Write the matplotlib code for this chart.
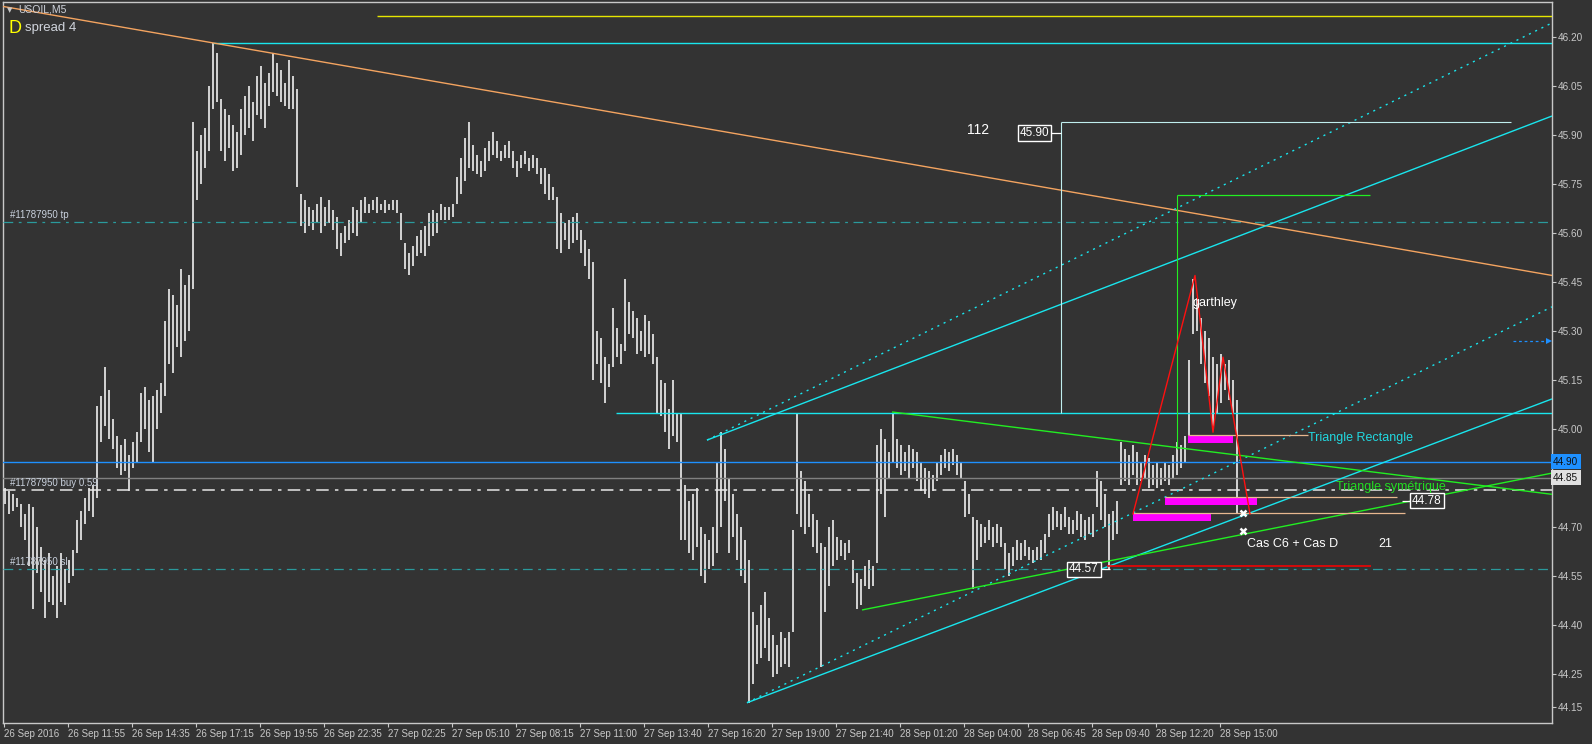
import matplotlib
matplotlib.use('Agg')
import matplotlib.pyplot as plt
import matplotlib.transforms as mtransforms
import numpy as np

plt.rcParams['font.family'] = ['Liberation Sans', 'DejaVu Sans']
plt.rcParams['lines.scale_dashes'] = False

# M5 bars of USOIL (one entry every second bar), highs and lows
high = [
    44.82, 44.81, 44.80, 44.79, 44.77, 44.74, 44.77, 44.76, 44.70, 44.64, 44.60, 44.62, 44.55, 44.58, 44.62, 44.57,
    44.60, 44.63, 44.72, 44.75, 44.79, 44.82, 44.83, 45.07, 45.10, 45.19, 45.12, 45.03, 44.98, 44.95, 44.97, 44.92,
    44.96, 44.99, 45.11, 45.13, 45.09, 45.10, 45.12, 45.14, 45.33, 45.43, 45.41, 45.38, 45.49, 45.44, 45.47, 45.94,
    45.85, 45.90, 45.92, 46.05, 46.18, 46.15, 46.01, 45.98, 45.96, 45.93, 45.91, 45.98, 46.02, 46.05, 46.00, 46.08,
    46.11, 46.06, 46.09, 46.15, 46.12, 46.10, 46.06, 46.13, 46.08, 46.04, 45.72, 45.70, 45.68, 45.67, 45.69, 45.71,
    45.68, 45.70, 45.67, 45.65, 45.60, 45.62, 45.64, 45.68, 45.67, 45.70, 45.71, 45.69, 45.70, 45.71, 45.69, 45.70,
    45.69, 45.70, 45.70, 45.66, 45.57, 45.54, 45.56, 45.59, 45.61, 45.62, 45.66, 45.67, 45.66, 45.69, 45.68, 45.68,
    45.69, 45.77, 45.83, 45.89, 45.94, 45.87, 45.84, 45.82, 45.86, 45.88, 45.91, 45.88, 45.85, 45.87, 45.88, 45.85,
    45.82, 45.84, 45.85, 45.83, 45.84, 45.83, 45.80, 45.80, 45.78, 45.74, 45.71, 45.66, 45.63, 45.64, 45.65, 45.66,
    45.61, 45.58, 45.55, 45.51, 45.30, 45.28, 45.22, 45.20, 45.37, 45.31, 45.26, 45.46, 45.39, 45.36, 45.34, 45.30,
    45.35, 45.33, 45.29, 45.22, 45.15, 45.14, 45.06, 45.15, 45.05, 45.05, 44.83, 44.78, 44.80, 44.82, 44.70, 44.68,
    44.66, 44.70, 44.90, 44.99, 44.94, 44.85, 44.80, 44.74, 44.70, 44.66, 44.60, 44.44, 44.40, 44.46, 44.50, 44.42,
    44.37, 44.34, 44.38, 44.36, 44.38, 44.69, 45.05, 44.87, 44.84, 44.80, 44.74, 44.72, 44.65, 44.64, 44.70, 44.72,
    44.67, 44.66, 44.65, 44.66, 44.60, 44.56, 44.54, 44.58, 44.60, 44.58, 44.95, 45.00, 44.97, 44.93, 45.05, 44.97,
    44.95, 44.93, 44.95, 44.94, 44.93, 44.90, 44.88, 44.87, 44.86, 44.90, 44.92, 44.94, 44.93, 44.94, 44.92, 44.90,
    44.84, 44.80, 44.73, 44.72, 44.71, 44.70, 44.72, 44.70, 44.71, 44.70, 44.65, 44.62, 44.64, 44.66, 44.65, 44.66,
    44.64, 44.63, 44.64, 44.66, 44.68, 44.74, 44.76, 44.75, 44.74, 44.76, 44.73, 44.72, 44.75, 44.74, 44.72, 44.73,
    44.74, 44.87, 44.84, 44.80, 44.74, 44.75, 44.78, 44.96, 44.94, 44.92, 44.95, 44.93, 44.90, 44.92, 44.91, 44.89,
    44.90, 44.88, 44.90, 44.89, 44.92, 44.96, 44.95, 44.98, 45.21, 45.46, 45.40, 45.34, 45.30, 45.28, 45.22, 45.20,
    45.23, 45.20, 45.21, 45.15, 45.09,
]
low = [
    44.77, 44.74, 44.75, 44.76, 44.70, 44.66, 44.58, 44.45, 44.56, 44.50, 44.42, 44.47, 44.46, 44.42, 44.47, 44.46,
    44.53, 44.55, 44.62, 44.66, 44.71, 44.75, 44.73, 44.79, 44.96, 45.01, 44.97, 44.94, 44.88, 44.86, 44.87, 44.81,
    44.88, 44.90, 44.96, 45.00, 44.93, 44.90, 45.00, 45.05, 45.10, 45.20, 45.17, 45.25, 45.22, 45.27, 45.30, 45.43,
    45.70, 45.75, 45.80, 45.85, 45.98, 46.00, 45.85, 45.82, 45.86, 45.79, 45.80, 45.84, 45.90, 45.92, 45.88, 45.96,
    45.95, 45.92, 45.99, 46.03, 46.02, 46.00, 45.99, 45.98, 45.98, 45.74, 45.62, 45.60, 45.62, 45.61, 45.63, 45.60,
    45.62, 45.63, 45.61, 45.55, 45.53, 45.57, 45.58, 45.60, 45.59, 45.63, 45.66, 45.66, 45.67, 45.66, 45.67, 45.66,
    45.67, 45.67, 45.66, 45.58, 45.49, 45.47, 45.50, 45.53, 45.54, 45.53, 45.56, 45.59, 45.60, 45.64, 45.64, 45.64,
    45.65, 45.69, 45.72, 45.76, 45.80, 45.79, 45.78, 45.77, 45.79, 45.82, 45.84, 45.83, 45.82, 45.83, 45.83, 45.80,
    45.77, 45.80, 45.81, 45.79, 45.80, 45.78, 45.75, 45.72, 45.70, 45.70, 45.55, 45.54, 45.58, 45.55, 45.57, 45.58,
    45.54, 45.50, 45.46, 45.15, 45.20, 45.14, 45.08, 45.13, 45.19, 45.22, 45.20, 45.24, 45.29, 45.28, 45.23, 45.24,
    45.22, 45.23, 45.20, 45.05, 45.04, 44.99, 44.94, 44.98, 44.96, 44.66, 44.66, 44.62, 44.60, 44.64, 44.55, 44.53,
    44.57, 44.58, 44.62, 44.70, 44.78, 44.62, 44.67, 44.60, 44.55, 44.53, 44.16, 44.22, 44.28, 44.30, 44.33, 44.29,
    44.24, 44.25, 44.27, 44.28, 44.27, 44.38, 44.74, 44.70, 44.68, 44.70, 44.64, 44.62, 44.27, 44.44, 44.52, 44.58,
    44.60, 44.61, 44.60, 44.62, 44.53, 44.45, 44.46, 44.52, 44.51, 44.52, 44.59, 44.80, 44.73, 44.85, 44.90, 44.88,
    44.86, 44.87, 44.85, 44.88, 44.84, 44.81, 44.80, 44.79, 44.81, 44.84, 44.86, 44.88, 44.87, 44.89, 44.86, 44.85,
    44.73, 44.74, 44.51, 44.60, 44.64, 44.65, 44.66, 44.64, 44.65, 44.64, 44.57, 44.55, 44.58, 44.60, 44.60, 44.61,
    44.60, 44.59, 44.60, 44.60, 44.62, 44.67, 44.69, 44.70, 44.69, 44.70, 44.68, 44.68, 44.69, 44.67, 44.66, 44.68,
    44.67, 44.76, 44.72, 44.70, 44.57, 44.66, 44.68, 44.83, 44.84, 44.83, 44.86, 44.83, 44.84, 44.85, 44.82, 44.83,
    44.82, 44.83, 44.84, 44.83, 44.85, 44.86, 44.88, 44.90, 44.96, 45.29, 45.30, 45.20, 45.14, 45.10, 45.00, 45.05,
    45.08, 45.12, 45.09, 45.05, 44.74,
]

time_labels = ['26 Sep 2016', '26 Sep 11:55', '26 Sep 14:35', '26 Sep 17:15', '26 Sep 19:55',
               '26 Sep 22:35', '27 Sep 02:25', '27 Sep 05:10', '27 Sep 08:15', '27 Sep 11:00',
               '27 Sep 13:40', '27 Sep 16:20', '27 Sep 19:00', '27 Sep 21:40', '28 Sep 01:20',
               '28 Sep 04:00', '28 Sep 06:45', '28 Sep 09:40', '28 Sep 12:20', '28 Sep 15:00']
price_ticks = [46.20, 46.05, 45.90, 45.75, 45.60, 45.45, 45.30, 45.15, 45.00,
               44.70, 44.55, 44.40, 44.25, 44.15]

# trade levels
tp_level, buy_level, sl_level = 45.634, 44.813, 44.57
bid_level, ask_level = 44.85, 44.90

# garthley pattern points (bar, price)
garthley_x = [282, 297.5, 302, 304.5, 311.25]
garthley_y = [44.74, 45.47, 44.99, 45.22, 44.74]

W, H = 1592, 744
BG = '#333333'
FG = '#c8c8c8'
CYAN = '#19e6ee'
GREEN = '#22ee22'
RIGHT = 386.75

fig = plt.figure(figsize=(W / 100, H / 100), dpi=100, facecolor=BG)
ax = fig.add_axes([3 / W, 21 / H, 1549 / W, 721 / H], facecolor=BG)
ax.set_xlim(-0.5, RIGHT)
ax.set_ylim(44.100, 46.307)

idx = np.arange(len(high))
ax.vlines(idx, low, high, colors='#cfcfcf', lw=1.3, antialiased=False, zorder=2)


def seg(x0, y0, x1, y1, **kw):
    kw.setdefault('lw', 1.0)
    kw.setdefault('zorder', 3)
    ax.plot([x0, x1], [y0, y1], solid_capstyle='butt', **kw)


# horizontal levels
ax.axhline(ask_level, color='#1e90ff', lw=1.0, zorder=3)
ax.axhline(bid_level, color='#808080', lw=1.0, zorder=3)
ax.axhline(buy_level, color='#e6e6e6', lw=1.1, ls=(0, (9, 4.5, 2.5, 4.5)), zorder=3)
ax.axhline(tp_level, color='#2a9a9c', lw=0.9, ls=(0, (7, 4, 2, 4)), zorder=3)
ax.axhline(sl_level, color='#2a9a9c', lw=0.9, ls=(0, (7, 4, 2, 4)), zorder=3)

seg(93, 46.264, RIGHT, 46.264, color='#e6e600')
seg(52, 46.18, RIGHT, 46.18, color=CYAN)
seg(152.75, 45.05, RIGHT, 45.05, color=CYAN)

# resistance line
seg(-1.25, 46.295, RIGHT, 45.47, color='#f4a460')

# channels
seg(185.5, 44.162, RIGHT, 45.092, color=CYAN)
seg(175.5, 44.966, RIGHT, 45.958, color=CYAN)
seg(185.5, 44.162, RIGHT, 45.374, color=CYAN, ls=(0, (1.5, 3.5)))
seg(175.5, 44.966, RIGHT, 46.243, color=CYAN, ls=(0, (1.5, 3.5)))

# symmetrical triangle
seg(221.75, 45.052, RIGHT, 44.80, color=GREEN)
seg(214.25, 44.446, RIGHT, 44.865, color=GREEN)

# green swing marker
seg(293, 44.94, 293, 45.716, color=GREEN, lw=0.8)
seg(293, 45.716, 341.25, 45.716, color=GREEN, lw=0.9)

# 112 box
seg(264, 45.05, 264, 45.94, color='#c0eeee', lw=0.8)
seg(264, 45.94, 376.5, 45.94, color='#c0eeee', lw=0.8)
seg(261.25, 45.906, 264, 45.906, color='white', lw=0.9)
ax.text(257.4, 45.906, '45.90', ha='center', va='center', color='white', fontsize=8.5, zorder=6,
        bbox=dict(boxstyle='square,pad=0.15', fc=BG, ec='white', lw=1))
ax.text(240.5, 45.915, '112', ha='left', va='center', color='white', fontsize=10, zorder=6)

# zones
for x0, x1, top in [(295.75, 307, 44.982), (290, 313, 44.792), (282, 301.5, 44.743)]:
    ax.fill_between([x0, x1], top - 0.024, top, color='#ff00ff', lw=0, zorder=4)
seg(295.75, 44.982, 325.75, 44.982, color='#e8b890', lw=0.9, zorder=4)
seg(290, 44.792, 348, 44.792, color='#e8b890', lw=0.9, zorder=4)
seg(282, 44.743, 350, 44.743, color='#e8b890', lw=0.9, zorder=4)

ax.plot(garthley_x, garthley_y, color='#ff1010', lw=1.0, zorder=5)

seg(275.5, 44.58, 341.5, 44.58, color='#ff0000', lw=1.1)

seg(349.25, 44.781, 351.75, 44.781, color='white', lw=0.9)
ax.text(355.5, 44.781, '44.78', ha='center', va='center', color='white', fontsize=8.5, zorder=6,
        bbox=dict(boxstyle='square,pad=0.15', fc=BG, ec='white', lw=1))
seg(273.5, 44.57, 276.25, 44.57, color='white', lw=0.9)
ax.text(269.75, 44.57, '44.57', ha='center', va='center', color='white', fontsize=8.5, zorder=6,
        bbox=dict(boxstyle='square,pad=0.15', fc=BG, ec='white', lw=1))

ax.plot([309.5, 309.5], [44.743, 44.688], ls='none', marker='x', ms=4.5, mew=1.8, color='white', zorder=6)

ax.text(310.5, 44.648, 'Cas C6 + Cas D', color='white', fontsize=9, va='center', ha='left', zorder=6)
ax.text(343.25, 44.648, '21', color='white', fontsize=9, va='center', ha='left', zorder=6)
ax.text(297, 45.386, 'garthley', color='white', fontsize=9, va='center', ha='left', zorder=6)
ax.text(325.75, 44.973, 'Triangle Rectangle', color='#22d8e0', fontsize=9, va='center', ha='left', zorder=6)
ax.text(332.75, 44.823, 'Triangle symétrique', color='#22dd22', fontsize=9, va='center', ha='left', zorder=6)

# trade labels
for lvl, name in [(tp_level, 'tp'), (buy_level, 'buy 0.59'), (sl_level, 'sl')]:
    ax.text(1.25, lvl + 0.006, '#11787950 ' + name, color='#c8d0dc', fontsize=7, va='bottom', ha='left', zorder=6)

# price arrow
seg(377, 45.27, 385.3, 45.27, color='#1e90ff', lw=0.9, ls=(0, (2, 2)))
ax.plot([386.1], [45.27], marker='>', ms=4.5, color='#1e90ff', mew=0, zorder=6, clip_on=False)

# axes styling
for sp in ax.spines.values():
    sp.set_color(FG)
    sp.set_linewidth(1.0)
ax.yaxis.tick_right()
ax.set_yticks(price_ticks)
ax.set_yticklabels(['%.2f' % p for p in price_ticks])
ax.set_xticks(np.arange(len(time_labels)) * 16 - 0.35)
ax.set_xticklabels(time_labels)
for lab in ax.get_xticklabels():
    lab.set_ha('left')
ax.tick_params(axis='y', colors=FG, labelcolor=FG, labelsize=7.2, length=2.9, width=0.8, pad=1.5)
ax.tick_params(axis='x', colors=FG, labelcolor=FG, labelsize=7.0, length=2.9, width=0.8, pad=1.5)

blend = mtransforms.blended_transform_factory(ax.transAxes, ax.transData)
ax.text(1.0008, ask_level, '44.90', transform=blend, ha='left', va='center', fontsize=7.2, color='#101010',
        bbox=dict(boxstyle='square,pad=0.25', fc='#1e90ff', ec='none'))
ax.text(1.0008, bid_level, '44.85', transform=blend, ha='left', va='center', fontsize=7.2, color='#101010',
        bbox=dict(boxstyle='square,pad=0.25', fc='#e0e0e0', ec='none'))

# header
fig.text(7 / W, 1 - 10 / H, '▼', color=FG, fontsize=5, va='center', ha='left', family=['DejaVu Sans'])
fig.text(18 / W, 1 - 10 / H, 'USOIL,M5', color='#d0d4dc', fontsize=7.5, va='center', ha='left')
fig.text(8 / W, 1 - 28.5 / H, 'D', color='#ffff00', fontsize=13, va='center', ha='left')
fig.text(25 / W, 1 - 28.5 / H, 'spread 4', color='#d0d4dc', fontsize=9.5, va='center', ha='left')

fig.savefig('out.png', dpi=100, facecolor=BG)
